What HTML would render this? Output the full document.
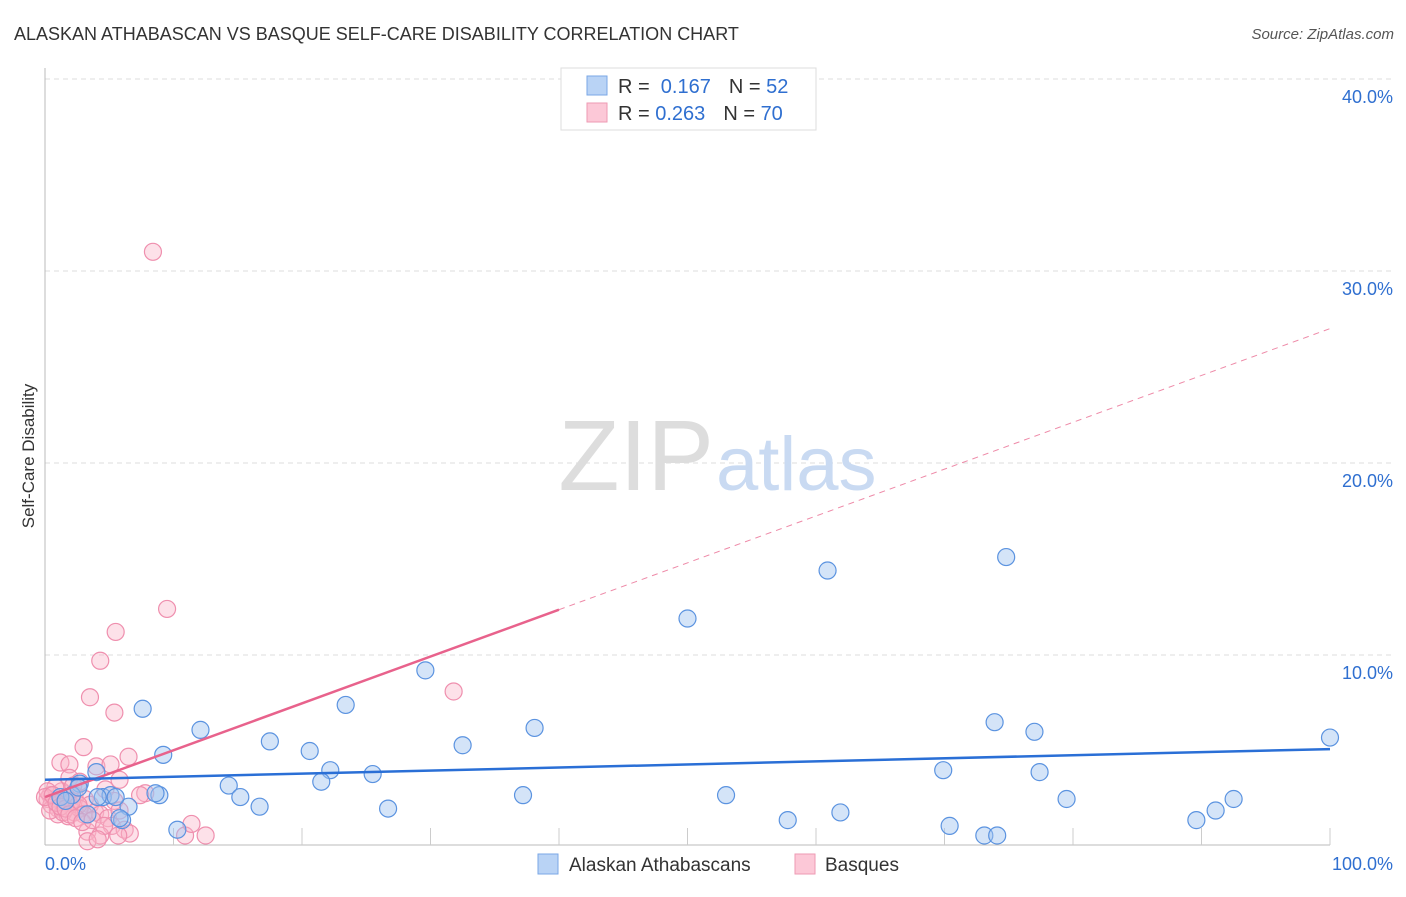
<!DOCTYPE html>
<html><head><meta charset="utf-8">
<style>
body{margin:0;background:#fff;font-family:"Liberation Sans",sans-serif;}
svg text{font-family:"Liberation Sans",sans-serif;}
</style></head>
<body>
<svg id="chart" width="1406" height="892">
<text x="14" y="40" font-size="18" fill="#333">ALASKAN ATHABASCAN VS BASQUE SELF-CARE DISABILITY CORRELATION CHART</text>
<text x="1394" y="39" font-size="15" fill="#555" text-anchor="end" font-style="italic">Source: ZipAtlas.com</text>
<text x="34" y="456" font-size="17" fill="#333" text-anchor="middle" transform="rotate(-90 34 456)">Self-Care Disability</text>
<g id="grid"></g>
<text x="714" y="490" font-size="100" fill="#ddd" text-anchor="end" font-family="Liberation Serif">ZIP</text>
<text x="716" y="490" font-size="76" fill="#c9daf2">atlas</text>
<g id="marks"></g>
<g>
<rect x="561" y="68" width="255" height="62" fill="#fff" stroke="#ddd"/>
<rect x="587" y="76" width="20" height="19" fill="#b9d3f5" stroke="#7aa7e6"/>
<rect x="587" y="103" width="20" height="19" fill="#fcc8d7" stroke="#ee9ab3"/>
<text x="618" y="93" font-size="20" fill="#333">R = <tspan fill="#2f6fd0">&#160;0.167</tspan><tspan dx="18" fill="#333">N = </tspan><tspan fill="#2f6fd0">52</tspan></text>
<text x="618" y="120" font-size="20" fill="#333">R = <tspan fill="#2f6fd0">0.263</tspan><tspan dx="18" fill="#333">N = </tspan><tspan fill="#2f6fd0">70</tspan></text>
</g>
<g>
<rect x="538" y="854" width="20" height="20" fill="#b9d3f5" stroke="#7aa7e6"/>
<text x="569" y="871" font-size="19" fill="#333">Alaskan Athabascans</text>
<rect x="795" y="854" width="20" height="20" fill="#fcc8d7" stroke="#ee9ab3"/>
<text x="825" y="871" font-size="19" fill="#333">Basques</text>
</g>
</svg>
<script>
const yTicks=[10,20,30,40];
const yTickLabels=["10.0%","20.0%","30.0%","40.0%"];
const xTickLabels=["0.0%","100.0%"];
const blueX=[7.6,9.2,12.1,17.5,20.6,22.2,21.5,23.4,25.5,26.7,29.6,32.5,37.2,38.1,50.0,53.0,57.8,60.9,61.9,69.9,70.4,73.1,73.9,74.1,74.8,77.0,77.4,79.5,89.6,91.1,92.5,100.0,14.3,15.2,16.7,8.9,8.6,6.5,6.0,4.0,4.5,5.1,10.3,2.7,3.3,2.1,1.2,5.5,4.1,2.6,5.8,1.6];
const blueY=[7.2,4.8,6.1,5.5,5.0,4.0,3.4,7.4,3.8,2.0,9.2,5.3,2.7,6.2,11.9,2.7,1.4,14.4,1.8,4.0,1.1,0.6,6.5,0.6,15.1,6.0,3.9,2.5,1.4,1.9,2.5,5.7,3.2,2.6,2.1,2.7,2.8,2.1,1.4,3.9,2.6,2.7,0.9,3.3,1.7,2.7,2.6,2.6,2.6,3.1,1.5,2.4];
const pinkX=[8.4,9.5,5.5,4.3,3.5,5.4,31.8,3.0,1.2,1.9,4.0,5.1,6.5,5.8,1.9,2.7,4.7,7.8,5.4,0.4,0.8,1.2,1.6,1.9,0.2,0.5,1.0,1.3,2.3,3.1,3.5,3.9,4.3,4.9,5.2,6.2,6.6,3.3,4.3,10.9,12.5,11.4,1.0,1.8,2.3,2.7,2.2,0.8,0.2,0.4,1.4,1.7,2.1,2.6,3.0,0.0,0.6,0.9,1.2,1.6,1.9,2.4,2.9,3.7,4.6,5.7,3.3,4.1,5.8,7.4];
const pinkY=[31.0,12.4,11.2,9.7,7.8,7.0,8.1,5.2,4.4,4.3,4.2,4.3,4.7,3.5,3.6,3.4,3.0,2.8,2.4,2.7,2.5,2.4,2.3,2.3,2.5,2.2,2.0,2.9,2.7,2.5,2.2,1.8,1.7,1.5,1.1,0.9,0.7,0.8,0.6,0.6,0.6,1.2,1.7,1.6,1.8,2.0,3.2,3.1,2.9,1.9,1.8,2.6,2.4,2.2,1.7,2.6,2.7,2.3,2.1,2.0,1.7,1.5,1.3,1.4,1.1,0.6,0.3,0.4,1.9,2.7];
const blueTrend=[3.5,5.1];
const pinkTrend=[2.6,27.0];
const pinkSolidEnd=40;
const x0=45,x1=1330,yBase=847,yPer=19.2;
const sx=v=>x0+(x1-x0)*v/100, sy=v=>yBase-v*yPer;
const NS="http://www.w3.org/2000/svg";
const grid=document.getElementById('grid'), marks=document.getElementById('marks');
function mk(tag,attrs,parent){const e=document.createElementNS(NS,tag);for(const k in attrs)e.setAttribute(k,attrs[k]);parent.appendChild(e);return e;}
yTicks.forEach((t,i)=>{
 const l=mk('line',{x1:x0,x2:1395,y1:sy(t),y2:sy(t),stroke:'#ddd','stroke-dasharray':'5,4'},grid);
 
 
 const tx=mk('text',{x:1393,y:sy(t)+24,'font-size':18,fill:'#2f6fd0','text-anchor':'end'},grid);
 tx.textContent=yTickLabels[i];
 
 
});
const ax=mk('line',{x1:x0,x2:x0,y1:68,y2:845,stroke:'#bbb'},grid);


const bx=mk('line',{x1:x0,x2:x1,y1:845,y2:845,stroke:'#bbb'},grid);


for(let i=1;i<=10;i++){
 const t=mk('line',{x1:sx(i*10),x2:sx(i*10),y1:828,y2:845,stroke:'#ccc'},grid);
 
 
}
[[0,'start',45],[100,'end',1393]].forEach((p,i)=>{
 const t=mk('text',{x:p[2],y:870,'font-size':18,fill:'#2f6fd0','text-anchor':p[1]},grid);
 t.textContent=xTickLabels[i];
 
 
});
pinkX.forEach((v,i)=>{
 const c=mk('circle',{cx:sx(v),cy:sy(pinkY[i]),r:8.5,fill:'rgba(250,180,200,0.4)',stroke:'#ef8fae','stroke-width':1.2},marks);
 
 
});
blueX.forEach((v,i)=>{
 const c=mk('circle',{cx:sx(v),cy:sy(blueY[i]),r:8.5,fill:'rgba(160,195,240,0.45)',stroke:'#5b93e0','stroke-width':1.2},marks);
 
 
});
const pAt=x=>pinkTrend[0]+(pinkTrend[1]-pinkTrend[0])*x/100;
const pd=mk('line',{x1:sx(pinkSolidEnd),y1:sy(pAt(pinkSolidEnd)),x2:sx(100),y2:sy(pAt(100)),stroke:'#ee8aa8','stroke-width':1,'stroke-dasharray':'6,5'},marks);


const ps=mk('line',{x1:sx(0),y1:sy(pAt(0)),x2:sx(pinkSolidEnd),y2:sy(pAt(pinkSolidEnd)),stroke:'#e8628c','stroke-width':2.5},marks);


const bl=mk('line',{x1:sx(0),y1:sy(blueTrend[0]),x2:sx(100),y2:sy(blueTrend[1]),stroke:'#2a6fd6','stroke-width':2.5},marks);


</script>
</body></html>
